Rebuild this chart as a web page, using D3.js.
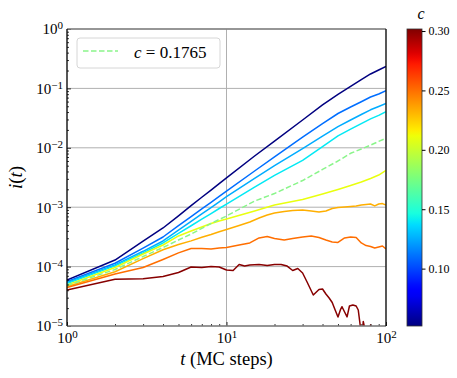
<!DOCTYPE html>
<html>
<head>
<meta charset="utf-8">
<script src="https://cdn.jsdelivr.net/npm/d3@7"></script>
<style>
  body { margin: 0; background: #fff; }
  text { font-family: "Liberation Serif", "DejaVu Serif", serif; }
</style>
</head>
<body>
<div id="chart"></div>
<script>
// time grids (MC steps)
const tSmooth = [1,2,3,4,5,6,7,8,9,10,15,20,30,40,50,60,70,80,90,100];
const tNoisy = [1,2,3,4,5,6,7,8,9,10,12,14,16,18,20,23,26,30,34,38,42,46,50,55,60,65,70,75,80,85,90,95,100];
const tRed = [1,2,3,4,5,6,7,8,9,10,11,12,13,14,16,18,20,22,24,26,28,30,32,35,38,40,42,44,46,48,50,52,53,55,57,59,62,65,67,69,71,72,74,79,80,82];

// i(t) for each c
const i052 = [5.95e-5,1.29e-4,2.68e-4,4.47e-4,7.16e-4,1.06e-3,1.47e-3,1.94e-3,2.5e-3,3.11e-3,7.27e-3,1.30e-2,2.94e-2,5.26e-2,7.9e-2,0.108,0.141,0.175,0.204,0.234];
const i100 = [5.61e-5,1.14e-4,2.05e-4,3.15e-4,4.89e-4,6.94e-4,9.36e-4,1.21e-3,1.52e-3,1.87e-3,4.07e-3,7.02e-3,1.51e-2,2.56e-2,3.78e-2,4.87e-2,5.97e-2,7.16e-2,8.04e-2,9.11e-2];
const i120 = [5.4e-5,1.07e-4,1.81e-4,2.70e-4,4.10e-4,5.77e-4,7.71e-4,9.88e-4,1.23e-3,1.51e-3,3.07e-3,5.0e-3,9.66e-3,1.57e-2,2.27e-2,2.94e-2,3.64e-2,4.36e-2,4.96e-2,5.57e-2];
const i140 = [5.2e-5,1.03e-4,1.70e-4,2.5e-4,3.61e-4,4.87e-4,6.28e-4,7.8e-4,9.51e-4,1.13e-3,2.18e-3,3.44e-3,6.14e-3,1.05e-2,1.59e-2,2.06e-2,2.56e-2,3.07e-2,3.51e-2,4.05e-2];
const i1765 = [4.81e-5,8.93e-5,1.48e-4,2.10e-4,2.80e-4,3.54e-4,4.39e-4,5.32e-4,6.21e-4,7.11e-4,1.27e-3,1.70e-3,2.81e-3,4.32e-3,6.0e-3,8.08e-3,9.55e-3,1.11e-2,1.28e-2,1.45e-2];
const i210 = [4.9e-5,9.66e-5,1.63e-4,2.31e-4,3.28e-4,3.97e-4,4.65e-4,5.32e-4,5.86e-4,6.33e-4,8.63e-4,1.09e-3,1.35e-3,1.67e-3,1.99e-3,2.32e-3,2.66e-3,3.05e-3,3.48e-3,4.15e-3];
const i230 = [4.63e-5,8.2e-5,1.36e-4,1.92e-4,2.35e-4,2.71e-4,3.11e-4,3.47e-4,3.86e-4,4.21e-4,4.92e-4,5.63e-4,6.58e-4,7.39e-4,7.98e-4,8.46e-4,8.8e-4,8.97e-4,8.63e-4,8.3e-4,8.63e-4,9.51e-4,9.88e-4,1.008e-3,1.027e-3,1.047e-3,1.089e-3,1.11e-3,1.13e-3,1.05e-3,1.13e-3,1.15e-3,1.09e-3];
const i250 = [4.45e-5,7.5e-5,9.66e-5,1.32e-4,1.70e-4,2.02e-4,2.02e-4,1.98e-4,2.06e-4,2.10e-4,2.31e-4,2.5e-4,3.04e-4,3.22e-4,2.98e-4,2.80e-4,2.98e-4,3.15e-4,3.28e-4,3.09e-4,2.80e-4,2.60e-4,2.55e-4,3.04e-4,3.15e-4,3.09e-4,2.5e-4,2.26e-4,2.18e-4,2.06e-4,2.14e-4,2.22e-4,1.98e-4];
const i300 = [4.04e-5,6.11e-5,6.26e-5,6.81e-5,7.95e-5,9.85e-5,9.66e-5,1.0e-4,9.85e-5,8.76e-5,8.6e-5,1.085e-4,1.02e-4,1.06e-4,1.085e-4,1.04e-4,1.085e-4,1.085e-4,1.02e-4,8.6e-5,9.29e-5,7.8e-5,5.51e-5,3.33e-5,4.12e-5,4.2e-5,3.46e-5,2.96e-5,2.49e-5,1.86e-5,1.42e-5,1.93e-5,2.11e-5,1.72e-5,1.42e-5,2.17e-5,2.26e-5,2.17e-5,1.86e-5,1.0e-5,7.06e-6,1.19e-5,8.6e-6,7.1e-6,1.04e-5,7.1e-6];

const cValues = [0.0517, 0.11, 0.125, 0.14, 0.1765, 0.21, 0.233, 0.25, 0.30];
const xTicks = [1, 10, 100];
const yTicks = [1e-5, 1e-4, 1e-3, 1e-2, 1e-1, 1];
const cbTicks = [0.10, 0.15, 0.20, 0.25, 0.30];
const legendValue = "0.1765";

const series = [
  { c: cValues[0], t: tSmooth, v: i052 },
  { c: cValues[1], t: tSmooth, v: i100 },
  { c: cValues[2], t: tSmooth, v: i120 },
  { c: cValues[3], t: tSmooth, v: i140 },
  { c: cValues[5], t: tSmooth, v: i210 },
  { c: cValues[6], t: tNoisy, v: i230 },
  { c: cValues[7], t: tNoisy, v: i250 },
  { c: cValues[8], t: tRed, v: i300 },
  { c: cValues[4], t: tSmooth, v: i1765, dashed: true }
];

const width = 457, height = 378;
const plot = { left: 67, right: 386, top: 29, bottom: 326 };
const cb = { left: 407, right: 422, top: 29, bottom: 326 };

// matplotlib "jet"
const jr = d3.scaleLinear().domain([0,0.35,0.66,0.89,1]).range([0,0,1,1,0.5]).clamp(true);
const jg = d3.scaleLinear().domain([0,0.125,0.375,0.64,0.91,1]).range([0,0,1,1,0,0]).clamp(true);
const jb = d3.scaleLinear().domain([0,0.11,0.34,0.65,1]).range([0.5,1,1,0,0]).clamp(true);
const jet = t => d3.rgb(jr(t)*255, jg(t)*255, jb(t)*255).formatHex();

const cNorm = d3.scaleLinear().domain([0.0517, 0.3017]).range([0, 1]);

const x = d3.scaleLog().domain([1, 100]).range([plot.left, plot.right]);
const y = d3.scaleLog().domain([1e-5, 1]).range([plot.bottom, plot.top]);

const svg = d3.select("#chart").append("svg")
  .attr("width", width).attr("height", height)
  .style("background", "#fff");

svg.append("defs").append("clipPath").attr("id", "clip")
  .append("rect")
  .attr("x", plot.left).attr("y", plot.top)
  .attr("width", plot.right - plot.left).attr("height", plot.bottom - plot.top);

// grid
const grid = svg.append("g").attr("stroke", "#b0b0b0").attr("stroke-width", 1);
grid.selectAll(".gy").data(yTicks).enter().append("line")
  .attr("x1", plot.left).attr("x2", plot.right)
  .attr("y1", d => y(d)).attr("y2", d => y(d));
grid.selectAll(".gx").data(xTicks).enter().append("line")
  .attr("y1", plot.top).attr("y2", plot.bottom)
  .attr("x1", d => x(d)).attr("x2", d => x(d));

// lines
const line = d3.line().x(d => x(d[0])).y(d => y(d[1]));
const lines = svg.append("g").attr("clip-path", "url(#clip)");
series.forEach(s => {
  lines.append("path")
    .datum(s.t.map((t, i) => [t, s.v[i]]))
    .attr("d", line)
    .attr("fill", "none")
    .attr("stroke", s.dashed ? "#8af58a" : jet(cNorm(s.c)))
    .attr("stroke-width", 1.5)
    .attr("stroke-linejoin", "round")
    .attr("stroke-dasharray", s.dashed ? "5.5,2.5" : null);
});

// minor ticks
const minorX = [], minorY = [];
[1, 10].forEach(b => { for (let k = 2; k <= 9; k++) minorX.push(b * k); });
[1e-5, 1e-4, 1e-3, 1e-2, 1e-1].forEach(b => { for (let k = 2; k <= 9; k++) minorY.push(b * k); });

function supLabels(sel) {
  sel.selectAll(".tick text").each(function(d) {
    const e = Math.round(Math.log10(d));
    const t = d3.select(this).text(null);
    t.append("tspan").text("10");
    t.append("tspan").attr("dy", "-0.45em").attr("font-size", "11px")
      .text(String(e).replace("-", "\u2212"));
  });
}

const xAxis = svg.append("g").attr("transform", `translate(0,${plot.bottom})`)
  .call(d3.axisBottom(x).tickValues(xTicks).tickSize(-4).tickPadding(6));
xAxis.call(supLabels);
svg.append("g").attr("transform", `translate(0,${plot.bottom})`)
  .call(d3.axisBottom(x).tickValues(minorX).tickSize(-2).tickFormat(""));

const yAxis = svg.append("g").attr("transform", `translate(${plot.left},0)`)
  .call(d3.axisLeft(y).tickValues(yTicks).tickSize(-4).tickPadding(4));
yAxis.call(supLabels);
svg.append("g").attr("transform", `translate(${plot.left},0)`)
  .call(d3.axisLeft(y).tickValues(minorY).tickSize(-2).tickFormat(""));

svg.selectAll(".domain").remove();
svg.selectAll(".tick line").attr("stroke", "#000").attr("stroke-width", 0.8);
svg.selectAll(".tick text").attr("font-size", "15px").attr("fill", "#000")
  .style("font-family", "'Liberation Serif', serif");

// spines
svg.append("line").attr("x1", plot.left).attr("x2", plot.right).attr("y1", plot.top).attr("y2", plot.top)
  .attr("stroke", "#808080").attr("stroke-width", 1.5);
svg.append("line").attr("x1", plot.left).attr("x2", plot.right).attr("y1", plot.bottom).attr("y2", plot.bottom)
  .attr("stroke", "#808080").attr("stroke-width", 1.5);
svg.append("line").attr("x1", plot.left).attr("x2", plot.left).attr("y1", plot.top).attr("y2", plot.bottom)
  .attr("stroke", "#000").attr("stroke-width", 1.2);
svg.append("line").attr("x1", plot.right).attr("x2", plot.right).attr("y1", plot.top).attr("y2", plot.bottom)
  .attr("stroke", "#000").attr("stroke-width", 1.2);

// axis labels
const xl = svg.append("text").attr("x", (plot.left + plot.right) / 2).attr("y", 365)
  .attr("text-anchor", "middle").attr("font-size", "18.5px");
xl.append("tspan").attr("font-style", "italic").text("t");
xl.append("tspan").text(" (MC steps)");

const yl = svg.append("text").attr("transform", `translate(22,${(plot.top + plot.bottom) / 2}) rotate(-90)`)
  .attr("text-anchor", "middle").attr("font-size", "19px");
yl.append("tspan").attr("font-style", "italic").text("i");
yl.append("tspan").text("(");
yl.append("tspan").attr("font-style", "italic").text("t");
yl.append("tspan").text(")");

// legend
const lg = svg.append("g");
lg.append("rect").attr("x", 77).attr("y", 38).attr("width", 143).attr("height", 30).attr("rx", 3)
  .attr("fill", "#fff").attr("fill-opacity", 0.8).attr("stroke", "#d6d6d6");
lg.append("line").attr("x1", 83).attr("x2", 118).attr("y1", 51).attr("y2", 51)
  .attr("stroke", "#8af58a").attr("stroke-width", 1.5).attr("stroke-dasharray", "5.5,2.5");
const lt = lg.append("text").attr("x", 134).attr("y", 57.5).attr("font-size", "17px");
lt.append("tspan").attr("font-style", "italic").text("c");
lt.append("tspan").text(" = " + legendValue);

// colorbar
const cbScale = d3.scaleLinear().domain(cNorm.domain()).range([cb.bottom, cb.top]);
const grad = svg.select("defs").append("linearGradient").attr("id", "jetgrad")
  .attr("x1", 0).attr("y1", 1).attr("x2", 0).attr("y2", 0);
d3.range(0, 1.0001, 0.02).forEach(t => {
  grad.append("stop").attr("offset", t).attr("stop-color", jet(t));
});
svg.append("rect").attr("x", cb.left).attr("y", cb.top)
  .attr("width", cb.right - cb.left).attr("height", cb.bottom - cb.top)
  .attr("fill", "url(#jetgrad)").attr("stroke", "#333").attr("stroke-width", 0.8);

const cbAxis = svg.append("g").attr("transform", `translate(${cb.right},0)`)
  .call(d3.axisRight(cbScale).tickValues(cbTicks).tickSize(3.5).tickPadding(3).tickFormat(d3.format(".2f")));
cbAxis.select(".domain").remove();
cbAxis.selectAll(".tick text").attr("font-size", "12px").attr("fill", "#000")
  .style("font-family", "'Liberation Serif', serif");
cbAxis.selectAll(".tick line").attr("stroke", "#000");

svg.append("text").attr("x", 421).attr("y", 19).attr("text-anchor", "middle")
  .attr("font-size", "16px").attr("font-style", "italic").text("c");
</script>
</body>
</html>
